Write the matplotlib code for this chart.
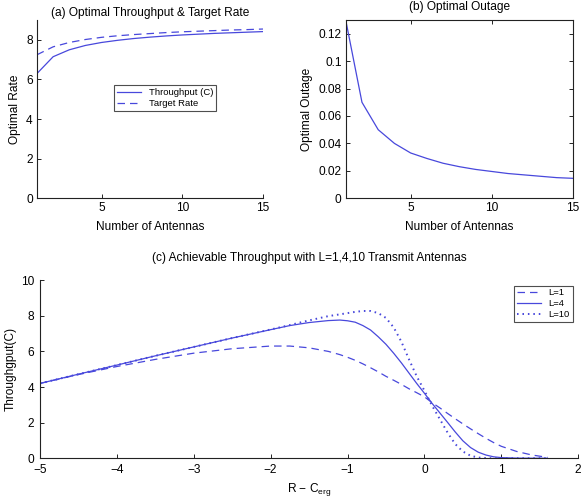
import matplotlib
matplotlib.use("Agg")
import matplotlib.pyplot as plt

plt.rcParams['font.family'] = ['Liberation Sans', 'DejaVu Sans']
plt.rcParams['mathtext.fontset'] = 'custom'
plt.rcParams['mathtext.rm'] = 'Liberation Sans'
plt.rcParams['mathtext.it'] = 'Liberation Sans'

# ---------------- data ----------------
antennas = list(range(1, 16))
throughput = [6.3, 7.15, 7.5, 7.72, 7.87, 7.98, 8.07, 8.14, 8.2, 8.25, 8.29, 8.33, 8.36, 8.39, 8.42]
target_rate = [7.25, 7.65, 7.87, 8.02, 8.13, 8.21, 8.27, 8.32, 8.37, 8.41, 8.44, 8.47, 8.5, 8.52, 8.55]
outage = [0.13, 0.07, 0.05, 0.04, 0.033, 0.029, 0.0255, 0.023, 0.021, 0.0195, 0.018, 0.017, 0.016, 0.015, 0.0145]

r_minus_c = [-5, -4.5, -4, -3.5, -3, -2.5, -2, -1.75, -1.5, -1.25, -1.1, -1, -0.9, -0.8, -0.7,
             -0.6, -0.5, -0.4, -0.3, -0.2, -0.1, 0, 0.1, 0.2, 0.3, 0.4, 0.5, 0.6, 0.7, 0.8,
             0.9, 1.0, 1.2, 1.4, 1.6]
thr_L1 = [4.2, 4.7, 5.15, 5.55, 5.9, 6.15, 6.3, 6.3, 6.2, 6.0, 5.82, 5.67, 5.5, 5.3, 5.08,
          4.85, 4.6, 4.38, 4.15, 3.9, 3.68, 3.45, 3.12, 2.83, 2.52, 2.22, 1.93, 1.65, 1.38, 1.12,
          0.88, 0.67, 0.38, 0.18, 0.05]
thr_L4 = [4.2, 4.72, 5.23, 5.75, 6.25, 6.75, 7.22, 7.45, 7.62, 7.73, 7.76, 7.72, 7.64, 7.45, 7.2,
          6.82, 6.4, 5.9, 5.36, 4.78, 4.2, 3.65, 3.08, 2.55, 2.02, 1.48, 0.98, 0.6, 0.34, 0.18,
          0.08, 0.035, 0.006, 0.0, 0.0]
thr_L10 = [4.2, 4.72, 5.23, 5.75, 6.25, 6.75, 7.23, 7.48, 7.74, 7.98, 8.08, 8.15, 8.22, 8.27, 8.27,
           8.15, 7.88, 7.35, 6.55, 5.55, 4.6, 3.8, 2.95, 2.2, 1.45, 0.8, 0.38, 0.14, 0.04, 0.01,
           0.0, 0.0, 0.0, 0.0, 0.0]

color = '#4848dc'
fs = 8.6

fig = plt.figure(figsize=(5.87, 5.03), dpi=100)

def style(ax, box=False, xpad=3, ypad=3):
    for s in ['top', 'right']:
        ax.spines[s].set_visible(box)
    for s in ax.spines.values():
        s.set_linewidth(0.8)
        s.set_color('#222222')
    ax.tick_params(direction='in', length=3, width=0.6, labelsize=fs,
                   top=box, right=box)
    ax.tick_params(axis='x', pad=xpad)
    ax.tick_params(axis='y', pad=ypad)

# (a)
ax1 = fig.add_axes([0.063, 0.606, 0.385, 0.354])
ax1.plot(antennas, throughput, color=color, lw=0.9, label='Throughput (C)')
ax1.plot(antennas, target_rate, color=color, lw=0.9, dashes=(6, 4), label='Target Rate')
ax1.set_xlim(1, 15)
ax1.set_ylim(0, 9)
ax1.set_xticks([5, 10, 15])
ax1.set_yticks([0, 2, 4, 6, 8])
ax1.set_title('(a) Optimal Throughput & Target Rate', fontsize=fs, pad=3)
ax1.set_xlabel('Number of Antennas', fontsize=fs, labelpad=5)
ax1.set_ylabel('Optimal Rate', fontsize=fs, labelpad=4)
style(ax1)
leg1 = ax1.legend(loc='upper left', bbox_to_anchor=(0.34, 0.635), fontsize=6.8, frameon=True,
                  fancybox=False, edgecolor='#222222', borderpad=0.3, handlelength=2.6,
                  labelspacing=0.2, borderaxespad=0)
leg1.get_frame().set_linewidth(0.8)

# (b)
ax2 = fig.add_axes([0.589, 0.606, 0.387, 0.354])
ax2.plot(antennas, outage, color=color, lw=0.9)
ax2.set_xlim(1, 15)
ax2.set_ylim(0, 0.13)
ax2.set_xticks([5, 10, 15])
yt = [0, 0.02, 0.04, 0.06, 0.08, 0.1, 0.12]
ax2.set_yticks(yt)
ax2.set_yticklabels(['0', '0.02', '0.04', '0.06', '0.08', '0.1', '0.12'])
ax2.set_title('(b) Optimal Outage', fontsize=fs, pad=7.5)
ax2.set_xlabel('Number of Antennas', fontsize=fs, labelpad=5)
ax2.set_ylabel('Optimal Outage', fontsize=fs, labelpad=4)
style(ax2, box=True)

# (c)
ax3 = fig.add_axes([0.068, 0.089, 0.917, 0.354])
ax3.plot(r_minus_c, thr_L1, color=color, lw=0.9, dashes=(6, 4), label='L=1')
ax3.plot(r_minus_c, thr_L4, color=color, lw=0.9, label='L=4')
ax3.plot(r_minus_c, thr_L10, color=color, lw=1.4, dashes=(0.8, 2.0), label='L=10')
ax3.set_xlim(-5, 2)
ax3.set_ylim(0, 10)
ax3.set_xticks([-5, -4, -3, -2, -1, 0, 1, 2])
ax3.set_yticks([0, 2, 4, 6, 8, 10])
ax3.set_title('(c) Achievable Throughput with L=1,4,10 Transmit Antennas', fontsize=fs, pad=14)
ax3.set_xlabel('R \u2212 C$_{\\rm erg}$', fontsize=fs, labelpad=3)
ax3.set_ylabel('Throughgput(C)', fontsize=fs, labelpad=3)
style(ax3, xpad=4.5, ypad=4)
leg3 = ax3.legend(loc='upper right', bbox_to_anchor=(0.99, 0.97), fontsize=6.8, frameon=True,
                  fancybox=False, edgecolor='#222222', borderpad=0.3, handlelength=2.6,
                  labelspacing=0.2, borderaxespad=0)
leg3.get_frame().set_linewidth(0.8)

fig.savefig('out.png', dpi=100)
